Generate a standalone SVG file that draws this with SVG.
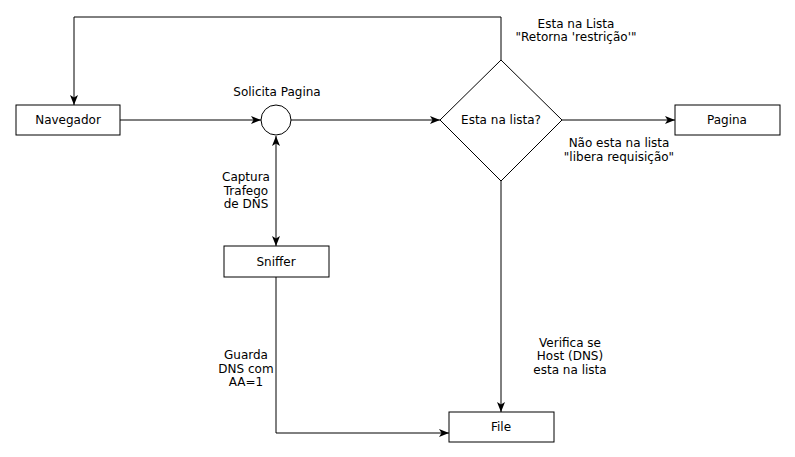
<svg xmlns="http://www.w3.org/2000/svg" width="795" height="457" viewBox="0 0 795 457">
<style>
.n{fill:#fff;stroke:#000;stroke-width:1}
.c{fill:none;stroke:#000;stroke-width:1}
text{font-family:"DejaVu Sans",sans-serif;font-size:12px;fill:#000;text-anchor:middle}
</style>
<defs>
<marker id="a" viewBox="0 0 10 8" refX="10" refY="4" markerWidth="10" markerHeight="8" markerUnits="userSpaceOnUse" orient="auto-start-reverse">
<path d="M0,0 L10,4 L0,8 L2.5,4 Z" fill="#000"/>
</marker>
</defs>
<rect width="795" height="457" fill="#fff"/>
<g id="connectors">
<path class="c" d="M120,120 H261" marker-end="url(#a)"/>
<path class="c" d="M291,120 H440" marker-end="url(#a)"/>
<path class="c" d="M562,120 H675" marker-end="url(#a)"/>
<path class="c" d="M501,60 V17 H74 V105" marker-end="url(#a)"/>
<path class="c" d="M276,136 V246" marker-start="url(#a)" marker-end="url(#a)"/>
<path class="c" d="M276,277 V433 H449" marker-end="url(#a)"/>
<path class="c" d="M501,181 V412" marker-end="url(#a)"/>
</g>
<g id="navegador"><rect class="n" x="16" y="105" width="104" height="30"/><text x="68" y="124">Navegador</text></g>
<g id="solicita"><circle class="n" cx="276" cy="120" r="15"/><text x="277" y="96">Solicita Pagina</text></g>
<g id="decisao"><polygon class="n" points="440,120 501,60 562,120 501,181"/><text x="501" y="124">Esta na lista?</text></g>
<g id="pagina"><rect class="n" x="675" y="105" width="105" height="30"/><text x="727" y="124">Pagina</text></g>
<g id="sniffer"><rect class="n" x="224" y="246" width="105" height="31"/><text x="276" y="266">Sniffer</text></g>
<g id="file"><rect class="n" x="449" y="412" width="105" height="30"/><text x="501" y="431">File</text></g>
<g id="labels">
<text x="576" y="28">Esta na Lista</text>
<text x="576" y="41">"Retorna 'restrição'"</text>
<text x="619" y="147">Não esta na lista</text>
<text x="619" y="161">"libera requisição"</text>
<text x="246" y="181">Captura</text>
<text x="246" y="195">Trafego</text>
<text x="246" y="208">de DNS</text>
<text x="246" y="359">Guarda</text>
<text x="246" y="373">DNS com</text>
<text x="246" y="386">AA=1</text>
<text x="570" y="347">Verifica se</text>
<text x="570" y="360">Host (DNS)</text>
<text x="570" y="374">esta na lista</text>
</g>
</svg>
